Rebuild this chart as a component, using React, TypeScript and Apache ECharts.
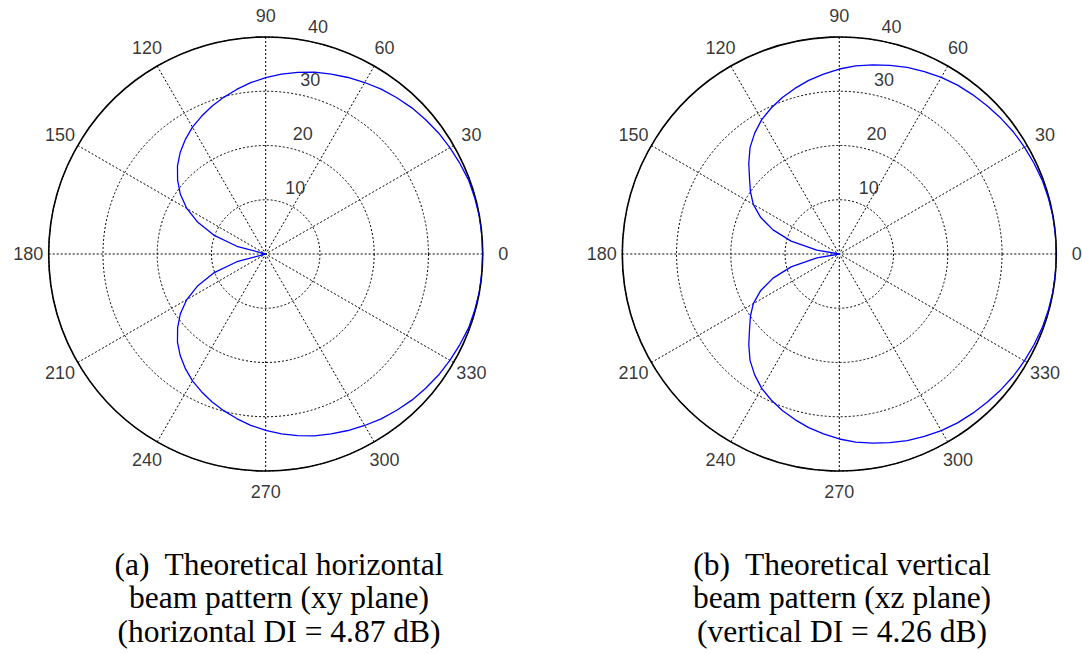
import React, { useEffect, useRef } from "react";
import * as echarts from "echarts";

const ANGLES = [
  0, 5, 10, 15, 20, 25, 30, 35, 40, 45, 50, 55, 60, 65, 70, 75, 80, 85, 90,
  95, 100, 105, 110, 115, 120, 125, 130, 135, 140, 145, 150, 155, 160, 165, 170, 175, 180,
  185, 190, 195, 200, 205, 210, 215, 220, 225, 230, 235, 240, 245, 250, 255, 260, 265, 270,
  275, 280, 285, 290, 295, 300, 305, 310, 315, 320, 325, 330, 335, 340, 345, 350, 355, 360,
];

// (a) horizontal beam pattern (xy plane), radial units
const HORIZONTAL = [
  40.0, 40.0, 40.0, 39.9, 39.8, 39.5, 39.2, 38.9, 38.5, 38.1, 37.6, 37.1, 36.5, 35.9, 35.3, 34.7, 34.0, 33.3, 32.5,
  31.7, 30.8, 29.9, 29.0, 28.0, 27.0, 25.8, 24.5, 23.0, 21.2, 19.2, 16.8, 13.8, 10.2, 5.5, 0, 0, 0,
  0, 0, 5.5, 10.2, 13.8, 16.8, 19.2, 21.2, 23.0, 24.5, 25.8, 27.0, 28.0, 29.0, 29.9, 30.8, 31.7, 32.5,
  33.3, 34.0, 34.7, 35.3, 35.9, 36.5, 37.1, 37.6, 38.1, 38.5, 38.9, 39.2, 39.5, 39.8, 39.9, 40.0, 40.0, 40.0,
];

// (b) vertical beam pattern (xz plane), radial units
const VERTICAL = [
  40.0, 40.0, 40.0, 39.9, 39.8, 39.6, 39.4, 39.2, 38.9, 38.6, 38.3, 38.0, 37.6, 37.1, 36.6, 36.0, 35.4, 34.8, 34.1,
  33.3, 32.5, 31.6, 30.7, 29.7, 28.6, 27.2, 25.6, 23.6, 21.6, 20.0, 18.3, 16.0, 13.0, 9.2, 4.2, 0, 0,
  0, 4.2, 9.2, 13.0, 16.0, 18.3, 20.0, 21.6, 23.6, 25.6, 27.2, 28.6, 29.7, 30.7, 31.6, 32.5, 33.3, 34.1,
  34.8, 35.4, 36.0, 36.6, 37.1, 37.6, 38.0, 38.3, 38.6, 38.9, 39.2, 39.4, 39.6, 39.8, 39.9, 40.0, 40.0, 40.0,
];

const ANGLE_TICKS = [0, 30, 60, 90, 120, 150, 180, 210, 240, 270, 300, 330];
const RADIUS_TICKS = [10, 20, 30, 40];
const RADIUS_MAX = 40;
const RADIUS_LABEL_ANGLE = 82;
const ANGLE_LABEL_RADIUS = 43.78;

const CAPTION_A = ["(a)\u00a0 Theoretical horizontal", "beam pattern (xy plane)", "(horizontal DI = 4.87 dB)"];
const CAPTION_B = ["(b)\u00a0 Theoretical vertical", "beam pattern (xz plane)", "(vertical DI = 4.26 dB)"];

const TICK_FONT = "Liberation Sans, Arial, sans-serif";
const CAPTION_FONT = "'Liberation Serif', 'Times New Roman', serif";

const CENTERS: [number, number][] = [
  [265.7, 254],
  [839.3, 254],
];
const RADIUS_PX = 217;

function buildAngleAxis(polarIndex: number) {
  return {
    polarIndex,
    type: "value",
    min: 0,
    max: 360,
    interval: 30,
    startAngle: 0,
    clockwise: false,
    axisLine: { show: true, lineStyle: { color: "#000", width: 1.6 } },
    axisTick: { show: false },
    axisLabel: { show: false },
    splitLine: { show: true, lineStyle: { color: "#000", width: 1, type: [2, 2] } },
  };
}

function buildRadiusAxis(polarIndex: number) {
  return {
    polarIndex,
    type: "value",
    min: 0,
    max: RADIUS_MAX,
    interval: 10,
    axisLine: { show: false },
    axisTick: { show: false },
    axisLabel: { show: false },
    splitLine: { show: true, lineStyle: { color: "#000", width: 1, type: [2, 2] } },
  };
}

function labelSeries(polarIndex: number, data: number[][], formatter: (p: any) => string, offset: number[]) {
  return {
    type: "scatter",
    coordinateSystem: "polar",
    polarIndex,
    clip: false,
    silent: true,
    symbolSize: 1,
    itemStyle: { color: "rgba(0,0,0,0)" },
    data,
    label: {
      show: true,
      position: "inside",
      offset,
      formatter,
      color: "#000",
      fontFamily: TICK_FONT,
      fontSize: 18,
    },
    z: 6,
  };
}

function buildSeries(polarIndex: number, values: number[]) {
  return [
    {
      type: "line",
      coordinateSystem: "polar",
      polarIndex,
      data: values.map((r, i) => [r, ANGLES[i]]),
      showSymbol: false,
      symbol: "none",
      smooth: false,
      lineStyle: { color: "#0000ff", width: 1.3 },
      z: 5,
      silent: true,
    },
    labelSeries(
      polarIndex,
      ANGLE_TICKS.map((a) => [ANGLE_LABEL_RADIUS, a]),
      (p: any) => String(p.value[1]),
      [0, 0]
    ),
    labelSeries(
      polarIndex,
      RADIUS_TICKS.map((r) => [r, RADIUS_LABEL_ANGLE]),
      (p: any) => String(p.value[0]),
      [22, -12.6]
    ),
  ];
}

function captionGraphics(lines: string[], x: number) {
  const ys = [564, 597.5, 631];
  return lines.map((t, i) => ({
    type: "text",
    x,
    y: ys[i],
    silent: true,
    style: {
      text: t,
      fill: "#000",
      font: `31.5px ${CAPTION_FONT}`,
      textAlign: "center",
      textVerticalAlign: "middle",
    },
  }));
}

export default function App() {
  const ref = useRef<HTMLDivElement>(null);

  useEffect(() => {
    if (!ref.current) return;
    const chart = echarts.init(ref.current, null, { renderer: "svg" });
    const option: any = {
      animation: false,
      backgroundColor: "#ffffff",
      polar: CENTERS.map((c) => ({ center: c, radius: RADIUS_PX })),
      angleAxis: [buildAngleAxis(0), buildAngleAxis(1)],
      radiusAxis: [buildRadiusAxis(0), buildRadiusAxis(1)],
      series: [...buildSeries(0, HORIZONTAL), ...buildSeries(1, VERTICAL)],
      graphic: [...captionGraphics(CAPTION_A, 279), ...captionGraphics(CAPTION_B, 842)],
    };
    chart.setOption(option);
    return () => chart.dispose();
  }, []);

  return (
    <div
      ref={ref}
      style={{ position: "absolute", left: 0, top: 0, width: 1082, height: 654, background: "#fff" }}
    />
  );
}
